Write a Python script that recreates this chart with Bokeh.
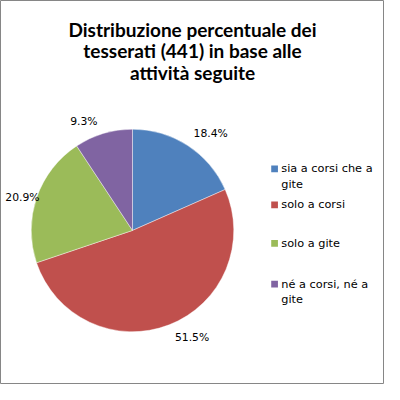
import math
from bokeh.plotting import figure
from bokeh.models import Range1d, ColumnDataSource
from bokeh.core.properties import value
from bokeh.embed import file_html
from bokeh.resources import INLINE

# ---- data ----
title_lines = ["Distribuzione percentuale dei", "tesserati (441) in base alle", "attività seguite"]
categories = ["sia a corsi che a gite", "solo a corsi", "solo a gite", "né a corsi, né a gite"]
legend_lines = [["sia a corsi che a", "gite"], ["solo a corsi"], ["solo a gite"], ["né a corsi, né a", "gite"]]
percent = [18.4, 51.5, 20.9, 9.3]
colors = ["#4F81BD", "#C0504D", "#9BBB59", "#8064A2"]

# ---- layout: data units = reference pixels (400x400), drawn at 384x384 ----
W = H = 384
def Y(y):
    return 400 - y

p = figure(width=W, height=H, output_backend="svg", toolbar_location=None,
           x_range=Range1d(0, 400), y_range=Range1d(0, 400),
           x_axis_location=None, y_axis_location=None, min_border=0)
p.grid.visible = False
p.outline_line_color = "#868686"
p.outline_line_width = 1
p.background_fill_color = "white"
p.border_fill_color = "white"

cx, cy, r = 137.5, 239.5, 105.5
total = sum(percent)
starts, ends, mids = [], [], []
acc = 0.0
for v in percent:
    a0 = math.pi / 2 - acc / total * 2 * math.pi
    acc += v
    a1 = math.pi / 2 - acc / total * 2 * math.pi
    starts.append(a0); ends.append(a1); mids.append((a0 + a1) / 2)

src = ColumnDataSource(dict(start=starts, end=ends, color=colors))
p.wedge(x=cx, y=Y(cy), radius=r, start_angle="start", end_angle="end",
        direction="clock", fill_color="color", line_color="white", line_width=0.6,
        line_alpha=0.7, source=src)

# percentage labels outside the pie (anchored on the rim at the slice's mid-angle)
off = 6
for v, m in zip(percent, mids):
    ux, uy = math.cos(m), math.sin(m)          # uy positive = upwards
    ax, ay = cx + r * ux, Y(cy) + r * uy
    if abs(uy) < 0.5:
        x = ax + (3 if ux < 0 else -3)
        y = ay
        align = "right" if ux < 0 else "left"
        base = "middle"
    else:
        x = ax + (off if ux > 0 else -off)
        y = ay + (off if uy > 0 else -off)
        align = "left" if ux > 0 else "right"
        base = "bottom" if uy > 0 else "top"
    p.text(x=[x], y=[y], text=[f"{v:.1f}%"], text_align=align, text_baseline=base,
           text_font=value("DejaVu Sans"), text_font_size="10.8px", text_color="#000000")

# title
for i, t in enumerate(title_lines):
    p.text(x=[200], y=[Y(30 + 22.5 * i)], text=[t], text_align="center", text_baseline="alphabetic",
           text_font=value("Lato"), text_font_style="bold", text_font_size="19px", text_color="#000000")

# legend
leg_y = [175.5, 213, 253, 295.5]
for lines, c, yy in zip(legend_lines, colors, leg_y):
    p.rect(x=[285.5], y=[Y(yy)], width=7, height=7, fill_color=c, line_color=None)
    for j, t in enumerate(lines):
        p.text(x=[292.5], y=[Y(yy + 16 * j)], text=[t], text_align="left", text_baseline="middle",
               text_font=value("DejaVu Sans"), text_font_size="11.3px", text_color="#000000")

open("out.html", "w").write(file_html(p, INLINE))
